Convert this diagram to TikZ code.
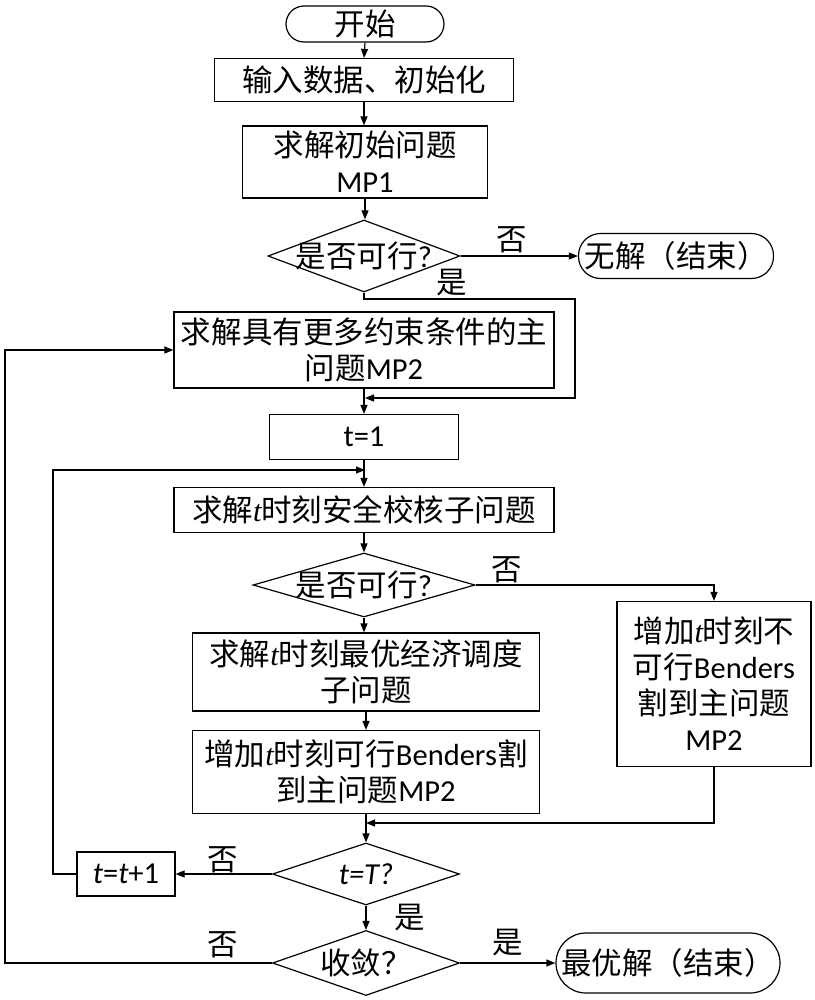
\documentclass[tikz,border=0pt]{standalone}
\usepackage{fontspec}
\setmainfont{Noto Sans CJK SC}
\newfontfamily\latf{Carlito}
\newfontfamily\serf{Liberation Serif}
\usetikzlibrary{shapes.geometric,arrows.meta}
\newcommand{\ti}{{\serf\itshape t}}
\newcommand{\la}[1]{{\latf #1}}
\newcommand{\li}[1]{{\latf\itshape #1}}
\begin{document}
\begin{tikzpicture}[x=1bp,y=-1bp,
  txt/.style={font=\fontsize{30.5bp}{36bp}\selectfont},
  sz/.style 2 args={minimum width=#1bp,minimum height=#2bp},
  box/.style={txt,draw,line width=1.2bp,rectangle,inner sep=0pt,align=center},
  term/.style={box,rounded corners=#1bp},
  dec/.style={txt,draw,line width=1.2bp,diamond,inner sep=0pt,shape aspect=2.5},
  lab/.style={txt,inner sep=0pt},
  ln/.style={line width=1.2bp},
  arr/.style={ln,-{Triangle[length=9bp,width=7bp]}}]
\useasboundingbox (0,0) rectangle (815,1000);
% nodes
\node[term=18,sz={158}{36}] (start) at (365,24) {开始};
\node[box,sz={299}{43}] (init) at (364,80) {输入数据、初始化};
\node[box,sz={245}{72}] (mp1) at (365,162) {求解初始问题\\\la{MP1}};
\node[dec,sz={192}{72}] (d1) at (364,256) {\makebox[0pt]{是否可行\la{?}}};
\node[term=22,sz={195}{45}] (nosol) at (676,256) {无解（结束）};
\node[box,sz={380}{76}] (mp2) at (364,350) {求解具有更多约束条件的主\\问题\la{MP2}};
\node[box,sz={189}{45}] (t1) at (364,437) {\la{t=1}};
\node[box,sz={380}{45}] (sec) at (364,510) {求解\ti 时刻安全校核子问题};
\node[dec,sz={222}{64}] (d2) at (364,585) {\makebox[0pt]{是否可行\la{?}}};
\node[box,sz={347}{78}] (ed) at (366,672) {求解\ti 时刻最优经济调度\\子问题};
\node[box,sz={347}{83}] (addf) at (366,772) {增加\ti 时刻可行\la{Benders}割\\到主问题\la{MP2}};
\node[box,sz={194}{165}] (addi) at (714,684) {增加\ti 时刻不\\可行\la{Benders}\\割到主问题\\\la{MP2}};
\node[dec,sz={187}{62}] (d3) at (366,874) {\makebox[0pt]{\li{t=T?}}};
\node[box,sz={98}{44}] (tinc) at (126,874) {\li{t}\la{=}\li{t}\la{+1}};
\node[dec,sz={187}{65}] (d4) at (366,963) {\makebox[0pt]{收敛？}};
\node[term=30,sz={224}{60}] (opt) at (668,963) {最优解（结束）};
% labels
\node[lab] (l1) at (512,240) {否};
\node[lab] (l2) at (452,283) {是};
\node[lab] (l3) at (507,570) {否};
\node[lab] (l4) at (223,860) {否};
\node[lab] (l5) at (410,918) {是};
\node[lab] (l6) at (223,945) {否};
\node[lab] (l7) at (508,943) {是};
% helper coordinates
\coordinate (m1) at (365,398);
\coordinate (m2) at (366,823);
\coordinate (m3) at (365,470);
% connectors
\draw[arr] (start.south) -- (init.north);
\draw[arr] (init.south) -- (init.south |- mp1.north);
\draw[arr] (mp1.south) -- (mp1.south |- d1.north);
\draw[arr] (d1.east) -- (nosol.west);
\draw[arr] (d1.south) -- (364,299) -- (575,299) -- (575,398) -- (m1);
\draw[arr] (mp2.south) -- (t1.north);
\draw[arr] (t1.south) -- (sec.north);
\draw[arr] (sec.south) -- (d2.north);
\draw[arr] (d2.east) -- (d2.east -| addi.north) -- (addi.north);
\draw[arr] (d2.south) -- (d2.south |- ed.north);
\draw[arr] (ed.south) -- (addf.north);
\draw[arr] (addf.south) -- (d3.north);
\draw[arr] (addi.south) -- (addi.south |- m2) -- (m2);
\draw[arr] (d3.west) -- (tinc.east);
\draw[arr] (tinc.west) -- (53,874) -- (53,470) -- (m3);
\draw[arr] (d3.south) -- (d4.north);
\draw[arr] (d4.west) -- (5,963) -- (5,350) -- (mp2.west);
\draw[arr] (d4.east) -- (opt.west);
\end{tikzpicture}
\end{document}
